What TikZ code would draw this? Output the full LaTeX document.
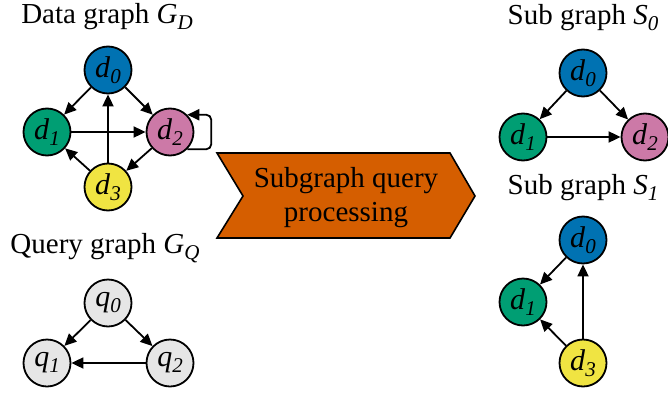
\documentclass[tikz,border=0pt]{standalone}
\usepackage{fontspec}
\setmainfont{Liberation Serif}
\usetikzlibrary{arrows.meta}
\definecolor{cblue}{HTML}{0072B2}
\definecolor{cgreen}{HTML}{009E73}
\definecolor{cpink}{HTML}{CC79A7}
\definecolor{cyellow}{HTML}{F0E442}
\definecolor{corange}{HTML}{D55E00}
\definecolor{cgray}{HTML}{E6E6E6}
\newcommand{\vx}[2]{\textit{#1}\raisebox{-0.42ex}{\fontsize{21}{21}\selectfont\textit{#2}}}
\begin{document}
\begin{tikzpicture}[x=1pt,y=-1pt,
  vtx/.style={circle,draw,line width=1.8pt,minimum size=47pt,inner sep=0pt,font=\fontsize{30}{30}\selectfont},
  edge/.style={line width=1.8pt,-{Triangle[length=12pt,width=11pt]}},
  ttl/.style={font=\fontsize{29}{30}\selectfont,inner sep=0pt}]
\useasboundingbox (0,0) rectangle (668,396);
% Data graph
\node[ttl] (tD) at (107,17) {Data graph \vx{G}{D}};
\node[vtx,fill=cblue] (a0) at (108,70) {\vx{d}{0}};
\node[vtx,fill=cgreen] (a1) at (47,132) {\vx{d}{1}};
\node[vtx,fill=cpink] (a2) at (170,132) {\vx{d}{2}};
\node[vtx,fill=cyellow] (a3) at (108,187) {\vx{d}{3}};
\draw[edge] (a0) -- (a1);
\draw[edge] (a0) -- (a2);
\draw[edge] (a1) -- (a2);
\draw[edge] (a3) -- (a0);
\draw[edge] (a3) -- (a1);
\draw[edge] (a2) -- (a3);
\draw[edge,rounded corners=5pt] (a2.-45) -- ++(24,0) |- (a2.45);
% Query graph
\node[ttl] (tQ) at (105,248) {Query graph \vx{G}{Q}};
\node[vtx,fill=cgray] (q0) at (108,303) {\vx{q}{0}};
\node[vtx,fill=cgray] (q1) at (47,363) {\vx{q}{1}};
\node[vtx,fill=cgray] (q2) at (170,363) {\vx{q}{2}};
\draw[edge] (q0) -- (q1);
\draw[edge] (q0) -- (q2);
\draw[edge] (q2) -- (q1);
% Chevron
\draw[fill=corange,line width=1.6pt] (217,153) -- (450,153) -- (475,196) -- (450,238) -- (217,238) -- (243,196) -- cycle;
\node[align=center,font=\fontsize{29}{34}\selectfont] (proc) at (346,198) {Subgraph query\\processing};
% Sub graph S0
\node[ttl] (tS0) at (583,18) {Sub graph \vx{S}{0}};
\node[vtx,fill=cblue] (b0) at (583,73) {\vx{d}{0}};
\node[vtx,fill=cgreen] (b1) at (523,137) {\vx{d}{1}};
\node[vtx,fill=cpink] (b2) at (645,137) {\vx{d}{2}};
\draw[edge] (b0) -- (b1);
\draw[edge] (b0) -- (b2);
\draw[edge] (b1) -- (b2);
% Sub graph S1
\node[ttl] (tS1) at (583,188) {Sub graph \vx{S}{1}};
\node[vtx,fill=cblue] (c0) at (583,240) {\vx{d}{0}};
\node[vtx,fill=cgreen] (c1) at (523,302) {\vx{d}{1}};
\node[vtx,fill=cyellow] (c3) at (583,363) {\vx{d}{3}};
\draw[edge] (c0) -- (c1);
\draw[edge] (c3) -- (c0);
\draw[edge] (c3) -- (c1);
\end{tikzpicture}
\end{document}
